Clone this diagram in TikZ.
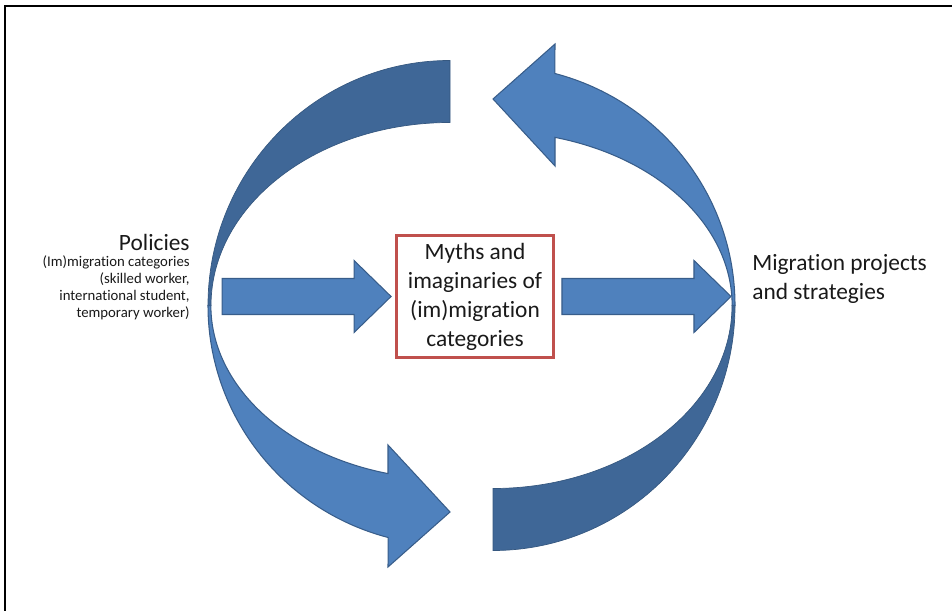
\documentclass[tikz,border=0pt]{standalone}
\usepackage{fontspec}
\setmainfont{Carlito}[Ligatures=NoCommon]
\usetikzlibrary{positioning}
\definecolor{arrowblue}{HTML}{4F81BD}
\definecolor{arrowedge}{HTML}{385D8A}
\definecolor{bandback}{HTML}{3F6797}
\definecolor{boxred}{HTML}{C0504D}

\begin{document}
\begin{tikzpicture}[x=0.02cm,y=0.02cm,
  front/.style={fill=arrowblue, draw=arrowedge, line width=0.6pt},
  back/.style={fill=bandback, draw=bandback!85!black, line width=0.4pt},
  bigtext/.style={font=\fontsize{13.3}{16.5}\selectfont, text=black!90, inner sep=0pt},
  smalltext/.style={font=\fontsize{8.4}{9.6}\selectfont, text=black!90, inner sep=0pt}]

\useasboundingbox (0,0) rectangle (952,611);
\draw[line width=0.045cm] (5,0) -- (5,605) -- (952,605);

% the two curved arrows, the right one is the left one turned round
\foreach \ang in {0,180}{
\begin{scope}[rotate around={\ang:(471.5,305.5)}]
\draw[back] (450,550.5) arc[start angle=90, end angle=180, x radius=242, y radius=245]
  -- (211,305.5) arc[start angle=180, end angle=90, x radius=239, y radius=183] -- cycle;
\draw[front] (208,305.5) arc[start angle=180, end angle=255.2, x radius=242, y radius=240]
  -- (388,44) -- (450,99) -- (388,166) -- (388,137.4)
  arc[start angle=255, end angle=180, x radius=239, y radius=174] -- cycle;
\end{scope}
}

\node[draw=boxred, line width=0.05cm, minimum width=3.15cm, minimum height=2.45cm,
  align=center, bigtext] (myths) at (475,314.5) {Myths and\\imaginaries of\\(im)migration\\categories};

% straight block arrows in and out of the box
\draw[front] ([xshift=-3.46cm,yshift=0.36cm]myths.west) -- ++(132,0) -- ++(0,18) -- ++(37,-36)
  -- ++(-37,-36) -- ++(0,18) -- ++(-132,0) -- cycle;
\draw[front] ([xshift=0.14cm,yshift=0.36cm]myths.east) -- ++(132,0) -- ++(0,18) -- ++(37,-36)
  -- ++(-37,-36) -- ++(0,18) -- ++(-132,0) -- cycle;

\node[bigtext, anchor=base east] (policies) at (190,360) {Policies};
\node[smalltext, align=right, anchor=north east] (categories) at ([yshift=-2.5pt]policies.base east)
  {(Im)migration categories\\(skilled worker,\\international student,\\temporary worker)};
\node[bigtext, align=left, anchor=north west] (projects) at (752,357) {Migration projects\\and strategies};

\end{tikzpicture}
\end{document}
